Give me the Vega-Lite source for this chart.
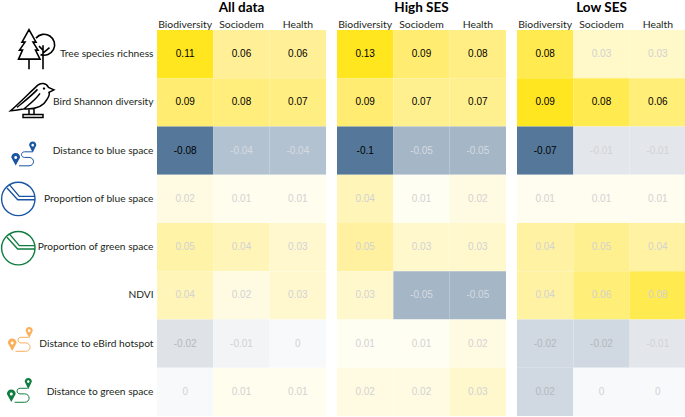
{
"$schema":"https://vega.github.io/schema/vega-lite/v6.json",
"padding":{"left":-2,"top":0,"right":0,"bottom":0},
"bounds":"flush",
"config":{"view":{"stroke":null},"concat":{"spacing":0},"text":{"font":"Liberation Sans"}},
"datasets":{
"cells":[
{"g":"All data","c":"Biodiversity","r":"Tree species richness","v":0.11,"t":"0.11","s":"y"},
{"g":"All data","c":"Sociodem","r":"Tree species richness","v":0.06,"t":"0.06","s":"y"},
{"g":"All data","c":"Health","r":"Tree species richness","v":0.06,"t":"0.06","s":"y"},
{"g":"All data","c":"Biodiversity","r":"Bird Shannon diversity","v":0.09,"t":"0.09","s":"y"},
{"g":"All data","c":"Sociodem","r":"Bird Shannon diversity","v":0.08,"t":"0.08","s":"y"},
{"g":"All data","c":"Health","r":"Bird Shannon diversity","v":0.07,"t":"0.07","s":"y"},
{"g":"All data","c":"Biodiversity","r":"Distance to blue space","v":-0.08,"t":"-0.08","s":"y"},
{"g":"All data","c":"Sociodem","r":"Distance to blue space","v":-0.04,"t":"-0.04","s":"l"},
{"g":"All data","c":"Health","r":"Distance to blue space","v":-0.04,"t":"-0.04","s":"l"},
{"g":"All data","c":"Biodiversity","r":"Proportion of blue space","v":0.02,"t":"0.02","s":"n"},
{"g":"All data","c":"Sociodem","r":"Proportion of blue space","v":0.01,"t":"0.01","s":"n"},
{"g":"All data","c":"Health","r":"Proportion of blue space","v":0.01,"t":"0.01","s":"n"},
{"g":"All data","c":"Biodiversity","r":"Proportion of green space","v":0.05,"t":"0.05","s":"n"},
{"g":"All data","c":"Sociodem","r":"Proportion of green space","v":0.04,"t":"0.04","s":"n"},
{"g":"All data","c":"Health","r":"Proportion of green space","v":0.03,"t":"0.03","s":"n"},
{"g":"All data","c":"Biodiversity","r":"NDVI","v":0.04,"t":"0.04","s":"n"},
{"g":"All data","c":"Sociodem","r":"NDVI","v":0.02,"t":"0.02","s":"n"},
{"g":"All data","c":"Health","r":"NDVI","v":0.03,"t":"0.03","s":"n"},
{"g":"All data","c":"Biodiversity","r":"Distance to eBird hotspot","v":-0.02,"t":"-0.02","s":"d"},
{"g":"All data","c":"Sociodem","r":"Distance to eBird hotspot","v":-0.01,"t":"-0.01","s":"n"},
{"g":"All data","c":"Health","r":"Distance to eBird hotspot","v":0,"t":"0","s":"n"},
{"g":"All data","c":"Biodiversity","r":"Distance to green space","v":0,"t":"0","s":"n"},
{"g":"All data","c":"Sociodem","r":"Distance to green space","v":0.01,"t":"0.01","s":"n"},
{"g":"All data","c":"Health","r":"Distance to green space","v":0.01,"t":"0.01","s":"n"},
{"g":"High SES","c":"Biodiversity","r":"Tree species richness","v":0.13,"t":"0.13","s":"y"},
{"g":"High SES","c":"Sociodem","r":"Tree species richness","v":0.09,"t":"0.09","s":"y"},
{"g":"High SES","c":"Health","r":"Tree species richness","v":0.08,"t":"0.08","s":"y"},
{"g":"High SES","c":"Biodiversity","r":"Bird Shannon diversity","v":0.09,"t":"0.09","s":"y"},
{"g":"High SES","c":"Sociodem","r":"Bird Shannon diversity","v":0.07,"t":"0.07","s":"y"},
{"g":"High SES","c":"Health","r":"Bird Shannon diversity","v":0.07,"t":"0.07","s":"y"},
{"g":"High SES","c":"Biodiversity","r":"Distance to blue space","v":-0.1,"t":"-0.1","s":"y"},
{"g":"High SES","c":"Sociodem","r":"Distance to blue space","v":-0.05,"t":"-0.05","s":"l"},
{"g":"High SES","c":"Health","r":"Distance to blue space","v":-0.05,"t":"-0.05","s":"l"},
{"g":"High SES","c":"Biodiversity","r":"Proportion of blue space","v":0.04,"t":"0.04","s":"n"},
{"g":"High SES","c":"Sociodem","r":"Proportion of blue space","v":0.01,"t":"0.01","s":"n"},
{"g":"High SES","c":"Health","r":"Proportion of blue space","v":0.02,"t":"0.02","s":"n"},
{"g":"High SES","c":"Biodiversity","r":"Proportion of green space","v":0.05,"t":"0.05","s":"n"},
{"g":"High SES","c":"Sociodem","r":"Proportion of green space","v":0.03,"t":"0.03","s":"n"},
{"g":"High SES","c":"Health","r":"Proportion of green space","v":0.03,"t":"0.03","s":"n"},
{"g":"High SES","c":"Biodiversity","r":"NDVI","v":0.03,"t":"0.03","s":"n"},
{"g":"High SES","c":"Sociodem","r":"NDVI","v":-0.05,"t":"-0.05","s":"l"},
{"g":"High SES","c":"Health","r":"NDVI","v":-0.05,"t":"-0.05","s":"l"},
{"g":"High SES","c":"Biodiversity","r":"Distance to eBird hotspot","v":0.01,"t":"0.01","s":"n"},
{"g":"High SES","c":"Sociodem","r":"Distance to eBird hotspot","v":0.01,"t":"0.01","s":"n"},
{"g":"High SES","c":"Health","r":"Distance to eBird hotspot","v":0.02,"t":"0.02","s":"n"},
{"g":"High SES","c":"Biodiversity","r":"Distance to green space","v":0.02,"t":"0.02","s":"n"},
{"g":"High SES","c":"Sociodem","r":"Distance to green space","v":0.02,"t":"0.02","s":"n"},
{"g":"High SES","c":"Health","r":"Distance to green space","v":0.03,"t":"0.03","s":"n"},
{"g":"Low SES","c":"Biodiversity","r":"Tree species richness","v":0.08,"t":"0.08","s":"y"},
{"g":"Low SES","c":"Sociodem","r":"Tree species richness","v":0.03,"t":"0.03","s":"n"},
{"g":"Low SES","c":"Health","r":"Tree species richness","v":0.03,"t":"0.03","s":"n"},
{"g":"Low SES","c":"Biodiversity","r":"Bird Shannon diversity","v":0.09,"t":"0.09","s":"y"},
{"g":"Low SES","c":"Sociodem","r":"Bird Shannon diversity","v":0.08,"t":"0.08","s":"y"},
{"g":"Low SES","c":"Health","r":"Bird Shannon diversity","v":0.06,"t":"0.06","s":"y"},
{"g":"Low SES","c":"Biodiversity","r":"Distance to blue space","v":-0.07,"t":"-0.07","s":"y"},
{"g":"Low SES","c":"Sociodem","r":"Distance to blue space","v":-0.01,"t":"-0.01","s":"n"},
{"g":"Low SES","c":"Health","r":"Distance to blue space","v":-0.01,"t":"-0.01","s":"n"},
{"g":"Low SES","c":"Biodiversity","r":"Proportion of blue space","v":0.01,"t":"0.01","s":"n"},
{"g":"Low SES","c":"Sociodem","r":"Proportion of blue space","v":0.01,"t":"0.01","s":"n"},
{"g":"Low SES","c":"Health","r":"Proportion of blue space","v":0.01,"t":"0.01","s":"n"},
{"g":"Low SES","c":"Biodiversity","r":"Proportion of green space","v":0.04,"t":"0.04","s":"n"},
{"g":"Low SES","c":"Sociodem","r":"Proportion of green space","v":0.05,"t":"0.05","s":"n"},
{"g":"Low SES","c":"Health","r":"Proportion of green space","v":0.04,"t":"0.04","s":"n"},
{"g":"Low SES","c":"Biodiversity","r":"NDVI","v":0.04,"t":"0.04","s":"n"},
{"g":"Low SES","c":"Sociodem","r":"NDVI","v":0.06,"t":"0.06","s":"n"},
{"g":"Low SES","c":"Health","r":"NDVI","v":0.08,"t":"0.08","s":"n"},
{"g":"Low SES","c":"Biodiversity","r":"Distance to eBird hotspot","v":-0.02,"t":"-0.02","s":"d"},
{"g":"Low SES","c":"Sociodem","r":"Distance to eBird hotspot","v":-0.02,"t":"-0.02","s":"d"},
{"g":"Low SES","c":"Health","r":"Distance to eBird hotspot","v":-0.01,"t":"-0.01","s":"n"},
{"g":"Low SES","c":"Biodiversity","r":"Distance to green space","v":-0.02,"t":"0.02","s":"d"},
{"g":"Low SES","c":"Sociodem","r":"Distance to green space","v":0,"t":"0","s":"n"},
{"g":"Low SES","c":"Health","r":"Distance to green space","v":0,"t":"0","s":"n"}
],
"rows":[
{"r":"Tree species richness"},{"r":"Bird Shannon diversity"},{"r":"Distance to blue space"},{"r":"Proportion of blue space"},{"r":"Proportion of green space"},{"r":"NDVI"},{"r":"Distance to eBird hotspot"},{"r":"Distance to green space"}
]},
"hconcat":[
{"width":156,"height":386,"data":{"name":"rows"},
 "encoding":{
  "x":{"datum":0,"type":"quantitative","axis":null,"scale":{"domain":[0,156]}},
  "y":{"field":"r","type":"nominal","axis":null,"scale":{"domain":["Tree species richness","Bird Shannon diversity","Distance to blue space","Proportion of blue space","Proportion of green space","NDVI","Distance to eBird hotspot","Distance to green space"],"paddingInner":0,"paddingOuter":0}}},
 "layer":[
 {"mark":{"type":"text","align":"right","font":"Lato","fontSize":10.2,"color":"#231f20"},
  "encoding":{"x":{"datum":152.5,"type":"quantitative"},"text":{"field":"r"}}},
 {"transform":[{"filter":"datum.r==='Tree species richness'"}],
  "mark":{"type":"point","size":4,"filled":false,"opacity":1,"stroke":"#000000","strokeWidth":1.6,"strokeJoin":"miter",
  "shape":"M28,-24.5L21,-12H24L18.5,-4H21.5L17.5,5H39L34.5,-4H37L32,-12H35ZM28,5V15M35,-16A10.5,10.5 0 1 1 39.5,0.5M42,15V-9M42,-1L48.5,-6.5M42,-4L38,-8"}},
 {"transform":[{"filter":"datum.r==='Bird Shannon diversity'"}],
  "mark":{"type":"point","size":4,"filled":false,"opacity":1,"stroke":"#000000","strokeWidth":1.5,
  "shape":"M53,-12.5L47.5,-15C45,-19.5 40,-20 36.5,-17C30,-11 17,2 9.5,8.5C15,8 20,7 23,6.5C32,7 42,5 46,-3C48,-6 48.5,-9 48,-10ZM36.5,-13C31,-7 22,0 16,5M39,-9C35,-3 27,3 23,6.5M28,6.5V12M33,6V12M22,12H42V15H22ZM43,-14.5a0.5,0.5 0 1 0 0.1,0"}},
 {"transform":[{"filter":"datum.r==='Distance to blue space'"}],
  "mark":{"type":"point","size":4,"filled":false,"opacity":1,"stroke":"#1a55a3","strokeWidth":1,
  "shape":"M18,15.2H28C34,15.2 34,6.8 28,6.8H23.5C19.5,6.8 19.5,1.2 23.5,1.2H31"}},
 {"transform":[{"filter":"datum.r==='Distance to blue space'"}],
  "mark":{"type":"point","size":4,"filled":true,"opacity":1,"fill":"#1a55a3","strokeWidth":0,
  "shape":"M28.1,-5.5A3.6,3.6 0 1 1 35.3,-5.5L31.7,2.2ZM30.4,-5.5a1.3,1.3 0 1 0 2.6,0a1.3,1.3 0 1 0 -2.6,0ZM10.3,6.8A4.4,4.4 0 1 1 19.1,6.8L14.7,14.9ZM13.2,6.8a1.5,1.5 0 1 0 3,0a1.5,1.5 0 1 0 -3,0Z"}},
 {"transform":[{"filter":"datum.r==='Proportion of blue space'"}],
  "mark":{"type":"point","size":4,"filled":false,"opacity":1,"stroke":"#1a55a3","strokeWidth":1.4,
  "shape":"M0.6,0a16.7,16.7 0 1 0 33.4,0a16.7,16.7 0 1 0 -33.4,0ZM9,-13.5L18.3,-2.5H34.5M6,-10.8L16.7,0.8H34.5"}},
 {"transform":[{"filter":"datum.r==='Proportion of green space'"}],
  "mark":{"type":"point","size":4,"filled":false,"opacity":1,"stroke":"#0f7d3f","strokeWidth":1.4,"yOffset":1,
  "shape":"M0.6,0a16.7,16.7 0 1 0 33.4,0a16.7,16.7 0 1 0 -33.4,0ZM9,-13.5L18.3,-2.5H34.5M6,-10.8L16.7,0.8H34.5"}},
 {"transform":[{"filter":"datum.r==='Distance to eBird hotspot'"}],
  "mark":{"type":"point","size":4,"filled":false,"opacity":1,"stroke":"#fbb05c","strokeWidth":1,"xOffset":-3.5,"yOffset":-7.5,
  "shape":"M18,15.2H28C34,15.2 34,6.8 28,6.8H23.5C19.5,6.8 19.5,1.2 23.5,1.2H31"}},
 {"transform":[{"filter":"datum.r==='Distance to eBird hotspot'"}],
  "mark":{"type":"point","size":4,"filled":true,"opacity":1,"fill":"#fbb05c","strokeWidth":0,"xOffset":-3.5,"yOffset":-7.5,
  "shape":"M28.1,-5.5A3.6,3.6 0 1 1 35.3,-5.5L31.7,2.2ZM30.4,-5.5a1.3,1.3 0 1 0 2.6,0a1.3,1.3 0 1 0 -2.6,0ZM10.3,6.8A4.4,4.4 0 1 1 19.1,6.8L14.7,14.9ZM13.2,6.8a1.5,1.5 0 1 0 3,0a1.5,1.5 0 1 0 -3,0Z"}},
 {"transform":[{"filter":"datum.r==='Distance to green space'"}],
  "mark":{"type":"point","size":4,"filled":false,"opacity":1,"stroke":"#0f7d3f","strokeWidth":1,"xOffset":-4.4,"yOffset":-4.8,
  "shape":"M18,15.2H28C34,15.2 34,6.8 28,6.8H23.5C19.5,6.8 19.5,1.2 23.5,1.2H31"}},
 {"transform":[{"filter":"datum.r==='Distance to green space'"}],
  "mark":{"type":"point","size":4,"filled":true,"opacity":1,"fill":"#0f7d3f","strokeWidth":0,"xOffset":-4.4,"yOffset":-4.8,
  "shape":"M28.1,-5.5A3.6,3.6 0 1 1 35.3,-5.5L31.7,2.2ZM30.4,-5.5a1.3,1.3 0 1 0 2.6,0a1.3,1.3 0 1 0 -2.6,0ZM10.3,6.8A4.4,4.4 0 1 1 19.1,6.8L14.7,14.9ZM13.2,6.8a1.5,1.5 0 1 0 3,0a1.5,1.5 0 1 0 -3,0Z"}}
 ]},
{"spacing":11,"bounds":"flush","hconcat":[
 {"title":{"text":"All data","font":"Lato","fontSize":13.5,"fontWeight":"bold","offset":5,"color":"#000"},"width":169,"height":386,"data":{"name":"cells"},"transform":[{"filter":"datum.g==='All data'"}],
  "encoding":{"x":{"field":"c","type":"nominal","sort":["Biodiversity","Sociodem","Health"],"title":null,"scale":{"paddingInner":0,"paddingOuter":0},"axis":{"orient":"top","labelAngle":0,"labelFont":"Lato","labelFontSize":10.4,"labelColor":"#231f20","ticks":false,"domain":false,"labelPadding":1}},
  "y":{"field":"r","type":"nominal","axis":null,"scale":{"domain":["Tree species richness","Bird Shannon diversity","Distance to blue space","Proportion of blue space","Proportion of green space","NDVI","Distance to eBird hotspot","Distance to green space"],"paddingInner":0,"paddingOuter":0}}},
  "layer":[{"mark":"rect","encoding":{"color":{"field":"v","type":"quantitative","legend":null,"scale":{"domain":[-0.08,-0.04,-0.02,-0.01,0,0.01,0.02,0.03,0.04,0.05,0.06,0.07,0.08,0.09,0.11],"range":["#55789a","#b3c2d0","#dfe3e8","#f2f4f6","#f8f9fb","#fffdee","#fffbe3","#fff8cf","#fff5b8","#fff3a8","#fff098","#ffee82","#ffed7c","#ffec70","#ffe61e"],"interpolate":"rgb"}}}},
  {"mark":{"type":"text","fontSize":10},"encoding":{"text":{"field":"t","type":"nominal"},"color":{"field":"s","type":"nominal","legend":null,"scale":{"domain":["y","n","l","d"],"range":["#000000","#d2d2d2","#d5dbe2","#b4b8be"]}}}}],
  "resolve":{"scale":{"color":"independent"}}},
 {"title":{"text":"High SES","font":"Lato","fontSize":13.5,"fontWeight":"bold","offset":5,"color":"#000"},"width":169,"height":386,"data":{"name":"cells"},"transform":[{"filter":"datum.g==='High SES'"}],
  "encoding":{"x":{"field":"c","type":"nominal","sort":["Biodiversity","Sociodem","Health"],"title":null,"scale":{"paddingInner":0,"paddingOuter":0},"axis":{"orient":"top","labelAngle":0,"labelFont":"Lato","labelFontSize":10.4,"labelColor":"#231f20","ticks":false,"domain":false,"labelPadding":1}},
  "y":{"field":"r","type":"nominal","axis":null,"scale":{"domain":["Tree species richness","Bird Shannon diversity","Distance to blue space","Proportion of blue space","Proportion of green space","NDVI","Distance to eBird hotspot","Distance to green space"],"paddingInner":0,"paddingOuter":0}}},
  "layer":[{"mark":"rect","encoding":{"color":{"field":"v","type":"quantitative","legend":null,"scale":{"domain":[-0.1,-0.05,0,0.01,0.02,0.03,0.04,0.05,0.07,0.08,0.09,0.13],"range":["#55789a","#a5b6c6","#f8f9fb","#fffef2","#fffbe2","#fff8cc","#fff5b8","#fff1a0","#fff08f","#ffee84","#ffec70","#ffe61e"],"interpolate":"rgb"}}}},
  {"mark":{"type":"text","fontSize":10},"encoding":{"text":{"field":"t","type":"nominal"},"color":{"field":"s","type":"nominal","legend":null,"scale":{"domain":["y","n","l","d"],"range":["#000000","#d2d2d2","#d5dbe2","#b4b8be"]}}}}],
  "resolve":{"scale":{"color":"independent"}}},
 {"title":{"text":"Low SES","font":"Lato","fontSize":13.5,"fontWeight":"bold","offset":5,"color":"#000"},"width":169,"height":386,"data":{"name":"cells"},"transform":[{"filter":"datum.g==='Low SES'"}],
  "encoding":{"x":{"field":"c","type":"nominal","sort":["Biodiversity","Sociodem","Health"],"title":null,"scale":{"paddingInner":0,"paddingOuter":0},"axis":{"orient":"top","labelAngle":0,"labelFont":"Lato","labelFontSize":10.4,"labelColor":"#231f20","ticks":false,"domain":false,"labelPadding":1}},
  "y":{"field":"r","type":"nominal","axis":null,"scale":{"domain":["Tree species richness","Bird Shannon diversity","Distance to blue space","Proportion of blue space","Proportion of green space","NDVI","Distance to eBird hotspot","Distance to green space"],"paddingInner":0,"paddingOuter":0}}},
  "layer":[{"mark":"rect","encoding":{"color":{"field":"v","type":"quantitative","legend":null,"scale":{"domain":[-0.07,-0.02,-0.01,0,0.01,0.03,0.04,0.05,0.06,0.08,0.09],"range":["#55789a","#d0d8e1","#e3e7ec","#f8f9fb","#fffdf0","#fff8c8","#fff3a3","#fff08f","#ffee78","#ffea50","#ffe620"],"interpolate":"rgb"}}}},
  {"mark":{"type":"text","fontSize":10},"encoding":{"text":{"field":"t","type":"nominal"},"color":{"field":"s","type":"nominal","legend":null,"scale":{"domain":["y","n","l","d"],"range":["#000000","#d2d2d2","#d5dbe2","#b4b8be"]}}}}],
  "resolve":{"scale":{"color":"independent"}}}
]}
]
}
